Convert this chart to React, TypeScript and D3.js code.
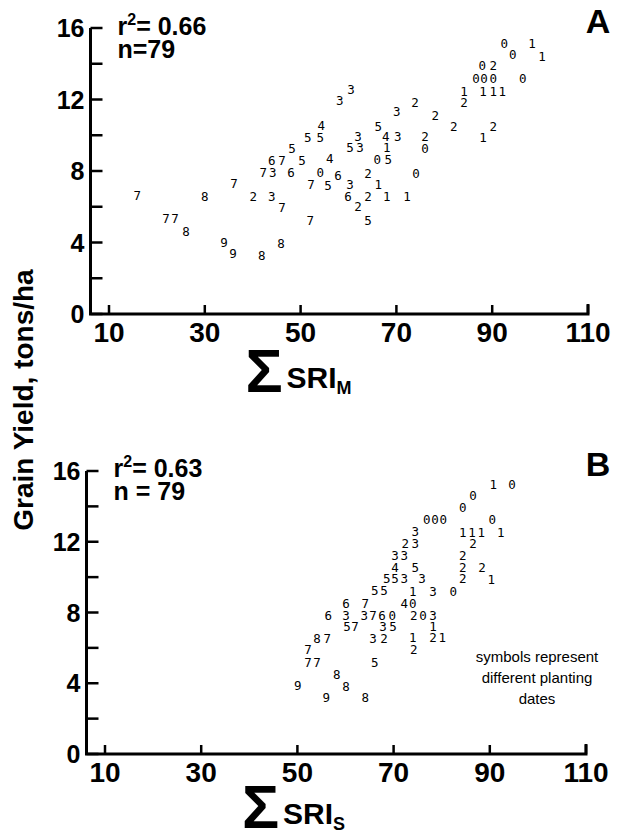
import React from "react";
import * as d3 from "d3";

// ---- Panel A data: sum of SRI_M vs grain yield, symbol = planting date ----
const sriM = [
  15.9, 30.0, 21.9, 23.8, 26.1, 34.0, 35.9, 41.9, 45.9, 36.1,
  40.1, 44.0, 46.1, 52.0, 42.2, 44.2, 48.0, 44.0, 46.1, 50.3,
  48.2, 52.2, 51.5, 54.1, 54.3, 54.1, 92.5, 98.3, 94.3, 100.4,
  87.9, 90.2, 86.6, 88.3, 90.2, 96.4, 84.1, 88.1, 90.2, 92.1,
  84.1, 60.5, 58.2, 73.9, 70.1, 78.1, 82.0, 90.2, 88.1, 66.2,
  62.0, 67.8, 70.3, 76.0, 76.0, 60.3, 62.4, 68.0, 66.0, 68.3,
  56.1, 57.8, 64.1, 74.1, 55.7, 60.3, 66.2, 59.9, 64.1, 68.0,
  72.2, 62.0, 64.1,
];
const yieldA = [
  6.61, 6.55, 5.32, 5.32, 4.59, 3.98, 3.36, 3.25, 3.92, 7.28,
  6.55, 6.55, 5.94, 5.21, 7.89, 7.89, 7.89, 8.57, 8.57, 8.57,
  9.24, 7.22, 9.85, 9.85, 10.53, 7.89, 15.12, 15.12, 14.5, 14.39,
  13.89, 13.89, 13.16, 13.16, 13.16, 13.16, 12.43, 12.43, 12.43, 12.43,
  11.81, 12.54, 11.93, 11.81, 11.31, 11.09, 10.47, 10.47, 9.85, 10.47,
  9.91, 9.91, 9.91, 9.91, 9.24, 9.29, 9.29, 9.29, 8.62, 8.62,
  8.68, 7.73, 7.84, 7.84, 7.17, 7.22, 7.22, 6.55, 6.55, 6.55,
  6.55, 5.99, 5.21,
];
const dateA = [
  "7", "8", "7", "7", "8", "9", "9", "8", "8", "7",
  "2", "3", "7", "7", "7", "3", "6", "6", "7", "5",
  "5", "7", "5", "5", "4", "0", "0", "1", "0", "1",
  "0", "2", "0", "0", "0", "0", "1", "1", "1", "1",
  "2", "3", "3", "2", "3", "2", "2", "2", "1", "5",
  "3", "4", "3", "2", "0", "5", "3", "1", "0", "5",
  "4", "6", "2", "0", "5", "3", "1", "6", "2", "1",
  "1", "2", "5",
];

// ---- Panel B data: sum of SRI_S vs grain yield ----
const sriS = [
  90.7, 94.6, 86.5, 84.4, 76.9, 78.6, 80.3, 90.5, 74.5, 84.4,
  86.3, 88.2, 92.3, 72.4, 74.5, 86.5, 70.3, 72.2, 84.4, 70.3,
  74.5, 84.4, 88.4, 68.6, 70.3, 72.2, 75.9, 84.4, 90.3, 66.1,
  68.0, 74.0, 78.2, 82.4, 60.1, 64.1, 72.2, 74.0, 56.4, 60.1,
  63.9, 65.7, 67.6, 69.7, 74.2, 76.1, 78.2, 60.3, 62.0, 67.8,
  69.9, 78.2, 54.1, 56.2, 65.7, 68.0, 74.0, 78.2, 80.1, 74.2,
  52.2, 52.2, 54.1, 66.1, 58.2, 50.1, 60.1, 56.0, 64.1,
];
const yieldB = [
  15.25, 15.25, 14.63, 13.95, 13.28, 13.28, 13.28, 13.28, 12.6, 12.54,
  12.54, 12.54, 12.54, 11.92, 11.92, 11.92, 11.24, 11.24, 11.24, 10.56,
  10.56, 10.56, 10.56, 9.94, 9.94, 9.94, 9.94, 9.94, 9.89, 9.27,
  9.27, 9.21, 9.21, 9.21, 8.53, 8.53, 8.53, 8.53, 7.85, 7.85,
  7.85, 7.85, 7.85, 7.85, 7.85, 7.85, 7.85, 7.23, 7.23, 7.23,
  7.23, 7.23, 6.55, 6.55, 6.55, 6.55, 6.61, 6.61, 6.61, 5.88,
  5.93, 5.2, 5.2, 5.2, 4.52, 3.9, 3.84, 3.22, 3.22,
];
const dateB = [
  "1", "0", "0", "0", "0", "0", "0", "0", "3", "1",
  "1", "1", "1", "2", "3", "2", "3", "3", "2", "4",
  "5", "2", "2", "5", "5", "3", "3", "2", "1", "5",
  "5", "1", "3", "0", "6", "7", "4", "0", "6", "3",
  "3", "7", "6", "0", "2", "0", "3", "5", "7", "3",
  "5", "1", "8", "7", "3", "2", "1", "2", "1", "2",
  "7", "7", "7", "5", "8", "9", "8", "9", "8",
];

const xTicks = [10, 30, 50, 70, 90, 110];
const yTicks = [0, 2, 4, 6, 8, 10, 12, 14, 16];
const yTickLabels = [0, 4, 8, 12, 16];

const statsA = { r2: "0.66", n: "n=79" };
const statsB = { r2: "0.63", n: "n = 79" };
const note = ["symbols represent", "different planting", "dates"];

const FONT = "'Liberation Sans', Arial, Helvetica, sans-serif";
const MONO = "'DejaVu Sans Mono', 'Liberation Mono', monospace";

type PanelProps = {
  xs: number[];
  ys: number[];
  syms: string[];
  xRange: [number, number];
  yRange: [number, number];
  axisX: number;
  letter: string;
  r2: string;
  n: string;
  sub: string;
  statsY: number;
  titleOffset: number;
};

function Panel(p: PanelProps) {
  const x = d3.scaleLinear().domain([10, 110]).range(p.xRange);
  const y = d3.scaleLinear().domain([0, 16]).range(p.yRange);
  const y0 = y(0);
  const yTop = y(16);
  const right = x(110);
  const sigX = x(38.5);
  const titleBase = y0 + p.titleOffset;
  return (
    <g>
      {/* axes */}
      <path
        d={`M${p.axisX},${yTop} V${y0} H${right} V${y0 - 10}`}
        fill="none"
        stroke="#000"
        strokeWidth={3}
      />
      {yTicks.map((t) => (
        <line key={"yt" + t} x1={p.axisX} x2={p.axisX + 12} y1={y(t)} y2={y(t)} stroke="#000" strokeWidth={2.5} />
      ))}
      {xTicks.map((t) => (
        <line key={"xt" + t} x1={x(t)} x2={x(t)} y1={y0} y2={y0 - 9} stroke="#000" strokeWidth={2.5} />
      ))}
      {yTickLabels.map((t) => (
        <text
          key={"yl" + t}
          x={p.axisX - 6}
          y={y(t) + 9}
          textAnchor="end"
          fontFamily={FONT}
          fontWeight="bold"
          fontSize={25}
        >
          {t}
        </text>
      ))}
      {xTicks.map((t) => (
        <text
          key={"xl" + t}
          x={x(t)}
          y={y0 + 28}
          textAnchor="middle"
          fontFamily={FONT}
          fontWeight="bold"
          fontSize={28}
        >
          {t}
        </text>
      ))}
      {/* data symbols */}
      {p.xs.map((v, i) => (
        <text
          key={"pt" + i}
          x={x(v)}
          y={y(p.ys[i])}
          textAnchor="middle"
          dominantBaseline="central"
          fontFamily={MONO}
          fontSize={12.5}
        >
          {p.syms[i]}
        </text>
      ))}
      {/* stats */}
      <text x={p.axisX + 27} y={p.statsY} fontFamily={FONT} fontWeight="bold" fontSize={25}>
        r<tspan dy={-10} fontSize={16}>2</tspan>
        <tspan dy={10}>= {p.r2}</tspan>
      </text>
      <text x={p.axisX + 27} y={p.statsY + 23} fontFamily={FONT} fontWeight="bold" fontSize={25}>
        {p.n}
      </text>
      {/* panel letter */}
      <text x={598} y={yTop + 5} textAnchor="middle" fontFamily={FONT} fontWeight="bold" fontSize={34}>
        {p.letter}
      </text>
      {/* x title */}
      <text x={sigX} y={titleBase} fontFamily={FONT} fontWeight="bold" fontSize={62}>
        Σ
      </text>
      <text x={sigX + 41} y={titleBase - 4} fontFamily={FONT} fontWeight="bold" fontSize={30}>
        SRI
        <tspan dy={6} fontSize={18}>{p.sub}</tspan>
      </text>
    </g>
  );
}

export default function App() {
  return (
    <svg
      width={629}
      height={835}
      viewBox="0 0 629 835"
      style={{ position: "absolute", left: 0, top: 0, background: "#fff" }}
    >
      <rect width={629} height={835} fill="#fff" />
      <Panel
        xs={sriM}
        ys={yieldA}
        syms={dateA}
        xRange={[109, 588]}
        yRange={[314, 28]}
        axisX={90.5}
        letter="A"
        r2={statsA.r2}
        n={statsA.n}
        sub="M"
        statsY={35}
        titleOffset={78}
      />
      <Panel
        xs={sriS}
        ys={yieldB}
        syms={dateB}
        xRange={[105, 586]}
        yRange={[754, 471]}
        axisX={86.5}
        letter="B"
        r2={statsB.r2}
        n={statsB.n}
        sub="S"
        statsY={477}
        titleOffset={74}
      />
      <text
        transform="translate(33,400) rotate(-90)"
        textAnchor="middle"
        fontFamily={FONT}
        fontWeight="bold"
        fontSize={28}
      >
        Grain Yield, tons/ha
      </text>
      {note.map((s, i) => (
        <text key={s} x={537} y={662 + i * 21} textAnchor="middle" fontFamily={FONT} fontSize={15}>
          {s}
        </text>
      ))}
    </svg>
  );
}
